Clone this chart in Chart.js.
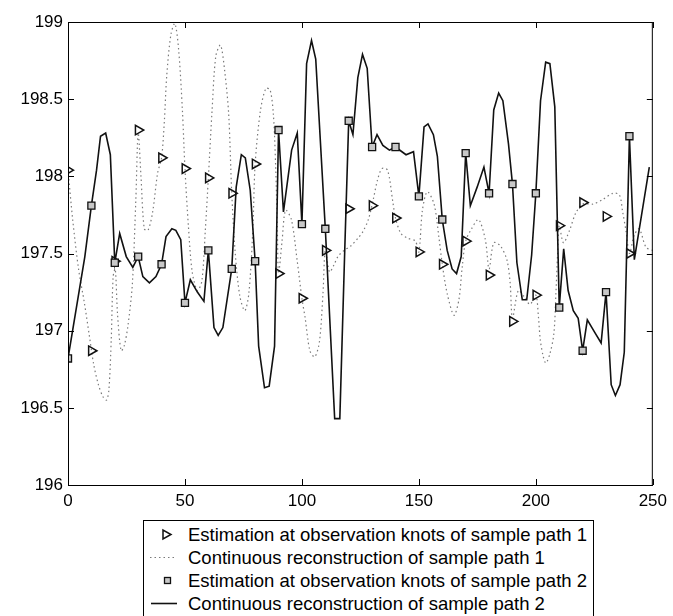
<!DOCTYPE html>
<html>
<head>
<meta charset="utf-8">
<script src="https://cdn.jsdelivr.net/npm/chart.js@4/dist/chart.umd.min.js"></script>
<style>
  body { margin: 0; background: #fff; }
  #wrap { position: relative; width: 673px; height: 616px; }
  #legendBox {
    position: absolute; left: 143px; top: 520px; width: 451px; height: 100px;
    border: 1px solid #000; box-sizing: border-box; background: #fff;
    font-family: "Liberation Sans", Arial, sans-serif; font-size: 18.5px; color: #000;
  }
  .row { position: absolute; left: 0; height: 23px; line-height: 23px; white-space: nowrap; }
  .row svg { position: absolute; left: 4px; top: 0; }
  .row span { position: absolute; left: 44px; }
</style>
</head>
<body>
<div id="wrap">
  <canvas id="myChart" width="673" height="616"></canvas>
  <div id="legendBox"></div>
</div>
<script>
// observation knots
const knotX = [0, 10, 20, 30, 40, 50, 60, 70, 80, 90, 100, 110, 120, 130, 140, 150, 160, 170, 180, 190, 200, 210, 220, 230, 240];
const path1Knots = [198.04, 196.87, 197.45, 198.30, 198.12, 198.05, 197.99, 197.89, 198.08, 197.37, 197.21, 197.52, 197.79,
  197.81, 197.73, 197.51, 197.43, 197.58, 197.36, 197.06, 197.23, 197.68, 197.83, 197.74, 197.50];
const path2Knots = [196.82, 197.81, 197.44, 197.48, 197.43, 197.18, 197.52, 197.40, 197.45, 198.30, 197.69, 197.66, 198.36,
  198.19, 198.19, 197.87, 197.72, 198.15, 197.89, 197.95, 197.89, 197.15, 196.87, 197.25, 198.26];

// continuous reconstruction, sample path 1 (dotted)
const path1CurveX = [0, 2, 4.5, 7, 9, 11, 13, 15, 16.5, 17.5, 18.5, 19.3, 20.2, 21.2, 22.7, 24, 25.6, 27.5, 29, 30,
  31.2, 32.6, 34.2, 36.2, 38.3, 40, 41.2, 42.2, 44, 45.7, 47.3, 48.9, 50, 51.5, 53.1, 55.3, 57.2, 58.7, 60,
  61.6, 63.2, 65.2, 67, 68.7, 70, 71.5, 73.5, 75.6, 77.3, 79, 80, 82.3, 84.6, 86.4, 87.8, 88.8, 89.5, 90,
  91.5, 93, 95.5, 98, 100, 101.4, 103.4, 105.5, 107.5, 109, 110, 111.8, 113.5, 115.4, 118, 121, 124, 126,
  128.4, 130.5, 132.2, 134.2, 136.6, 138.8, 140, 142.3, 145.1, 148.5, 150, 151.5, 153.6, 156.5, 158.6, 160,
  162.1, 165, 167.1, 168.5, 170, 172.5, 175.5, 178.4, 180, 182, 184.8, 187.6, 189, 190, 192.5, 195, 197.5,
  200, 201.1, 201.9, 203.2, 204.3, 206, 207.7, 208.6, 209.3, 210, 211.8, 214.4, 217, 220, 224.4, 228.6,
  232.9, 235.7, 237.1, 238.6, 240, 242.1, 244.2, 247.1, 250];
const path1CurveY = [198.04, 197.72, 197.40, 197.18, 196.98, 196.78, 196.65, 196.57, 196.55, 196.62, 196.95, 197.35, 197.40, 197.10, 196.87, 196.90, 197.03, 197.30, 197.85, 198.28,
  198.00, 197.66, 197.65, 197.77, 198.02, 198.12, 198.36, 198.65, 198.92, 198.99, 198.82, 198.43, 198.05, 197.67, 197.38, 197.26, 197.32, 197.65, 197.99,
  198.43, 198.78, 198.85, 198.68, 198.40, 197.89, 197.50, 197.22, 197.13, 197.24, 197.65, 198.08, 198.43, 198.57, 198.56, 198.40, 198.05, 197.65, 197.37,
  197.58, 197.78, 197.72, 197.45, 197.21, 197.08, 196.87, 196.83, 196.93, 197.24, 197.52, 197.38, 197.42, 197.48, 197.52, 197.55, 197.60, 197.64,
  197.72, 197.85, 197.97, 198.05, 198.04, 197.84, 197.73, 197.63, 197.60, 197.58, 197.51, 197.78, 197.90, 197.82, 197.60, 197.43,
  197.24, 197.10, 197.20, 197.41, 197.58, 197.66, 197.72, 197.59, 197.40, 197.57, 197.55, 197.46, 197.31, 197.08, 197.26, 197.22, 197.17,
  197.23, 197.09, 196.94, 196.83, 196.79, 196.85, 196.98, 197.25, 197.50, 197.68, 197.57, 197.65, 197.76, 197.82, 197.82, 197.85,
  197.89, 197.88, 197.77, 197.64, 197.50, 197.62, 197.66, 197.54, 197.52];

// continuous reconstruction, sample path 2 (solid)
const path2CurveX = [0, 7.2, 10, 12.2, 13.9, 16.1, 18.1, 20, 22.1, 24.9, 27.7, 30, 32, 34.8, 37.6, 40, 41.9, 44.4, 46.1, 48.2,
  50, 52.3, 55.3, 58.1, 60, 62.4, 64.2, 66.2, 70, 71.9, 74.1, 75.8, 77.9, 80, 81.5, 84, 86, 88.3, 90, 92.1, 95.6, 98,
  100, 102, 104.1, 105.9, 110, 114, 116.2, 118.3, 120, 121.8, 123.9, 125.9, 127.9, 130, 132.1, 134.6, 137.4, 140,
  144.5, 147.7, 150, 152.2, 153.9, 156.2, 157.9, 160, 162.1, 164.2, 166.1, 168.1, 170, 172, 174.9, 177.8, 180,
  182, 184.1, 185.9, 188.3, 190, 191.9, 194.2, 196.1, 198.2, 200, 202, 204.2, 206, 208.1, 210, 211.9, 213.8, 216,
  218.1, 220, 222, 225.1, 227.9, 230, 232.2, 234, 236, 237.8, 240, 242.1, 248.5];
const path2CurveY = [196.82, 197.48, 197.81, 198.04, 198.26, 198.28, 198.14, 197.44, 197.63, 197.48, 197.41, 197.48, 197.35, 197.31, 197.35, 197.43, 197.61, 197.66, 197.65, 197.59,
  197.18, 197.33, 197.25, 197.19, 197.52, 197.02, 196.97, 197.02, 197.40, 197.93, 198.14, 198.12, 197.91, 197.45, 196.90, 196.63, 196.64, 196.90, 198.30, 197.77, 198.17, 198.28,
  197.69, 198.73, 198.88, 198.76, 197.66, 196.43, 196.43, 197.52, 198.36, 198.27, 198.64, 198.79, 198.70, 198.19, 198.27, 198.20, 198.17, 198.19,
  198.14, 198.16, 197.87, 198.32, 198.34, 198.27, 198.13, 197.72, 197.52, 197.40, 197.37, 197.48, 198.15, 197.81, 197.93, 198.06, 197.89,
  198.43, 198.54, 198.49, 198.21, 197.95, 197.44, 197.20, 197.20, 197.49, 197.89, 198.49, 198.74, 198.73, 198.45, 197.15, 197.53, 197.26, 197.13,
  197.08, 196.87, 197.07, 196.99, 196.92, 197.25, 196.65, 196.58, 196.65, 196.86, 198.26, 197.46, 198.06];

const legendLabels = [
  'Estimation at observation knots of sample path 1',
  'Continuous reconstruction of sample path 1',
  'Estimation at observation knots of sample path 2',
  'Continuous reconstruction of sample path 2'
];

const toPoints = (xs, ys) => xs.map((x, i) => ({ x: x, y: ys[i] }));

const font = { family: '"Liberation Sans", Arial, sans-serif', size: 17 };

// box around the axes with inward ticks on every side
const frameTicks = {
  id: 'frameTicks',
  afterDatasetsDraw(chart) {
    const { ctx, chartArea: a, scales } = chart;
    const len = 6;
    ctx.save();
    ctx.strokeStyle = '#000';
    ctx.lineWidth = 1;
    ctx.strokeRect(a.left + 0.5, a.top + 0.5, a.right - a.left - 1, a.bottom - a.top);
    ctx.beginPath();
    scales.x.ticks.forEach(t => {
      const px = Math.round(scales.x.getPixelForValue(t.value)) + 0.5;
      ctx.moveTo(px, a.bottom); ctx.lineTo(px, a.bottom - len);
      ctx.moveTo(px, a.top); ctx.lineTo(px, a.top + len);
    });
    scales.y.ticks.forEach(t => {
      const py = Math.round(scales.y.getPixelForValue(t.value)) + 0.5;
      ctx.moveTo(a.left, py); ctx.lineTo(a.left + len, py);
      ctx.moveTo(a.right, py); ctx.lineTo(a.right - len, py);
    });
    ctx.stroke();
    ctx.restore();
  }
};

const myChart = new Chart(document.getElementById('myChart'), {
  data: {
    datasets: [
      {
        type: 'line',
        label: legendLabels[1],
        data: toPoints(path1CurveX, path1CurveY),
        borderColor: '#7a7a7a',
        borderWidth: 1.2,
        borderDash: [1.5, 3],
        pointRadius: 0,
        tension: 0.3,
        fill: false,
        order: 4
      },
      {
        type: 'line',
        label: legendLabels[3],
        data: toPoints(path2CurveX, path2CurveY),
        borderColor: '#111',
        borderWidth: 1.6,
        pointRadius: 0,
        tension: 0,
        fill: false,
        order: 3
      },
      {
        type: 'scatter',
        label: legendLabels[0],
        data: toPoints(knotX, path1Knots),
        pointStyle: 'triangle',
        rotation: 90,
        pointRadius: 5.5,
        borderColor: '#111',
        borderWidth: 1.5,
        backgroundColor: 'rgba(255,255,255,0)',
        order: 2
      },
      {
        type: 'scatter',
        label: legendLabels[2],
        data: toPoints(knotX, path2Knots),
        pointStyle: 'rect',
        pointRadius: 5,
        borderColor: '#111',
        borderWidth: 1.3,
        backgroundColor: '#c8c8c8',
        order: 1
      }
    ]
  },
  options: {
    responsive: false,
    animation: false,
    layout: { padding: { left: 0, top: 22, right: 16, bottom: 0 } },
    plugins: { legend: { display: false }, tooltip: { enabled: false } },
    scales: {
      x: {
        type: 'linear',
        min: 0,
        max: 250,
        afterFit(scale) { scale.height = 131; },
        grid: { display: false, drawTicks: false },
        border: { display: false },
        ticks: { stepSize: 50, maxRotation: 0, autoSkip: false, padding: 6, color: '#000', font: font }
      },
      y: {
        type: 'linear',
        min: 196,
        max: 199,
        afterFit(scale) { scale.width = 68; },
        grid: { display: false, drawTicks: false },
        border: { display: false },
        ticks: {
          stepSize: 0.5, autoSkip: false, padding: 5, color: '#000', font: font,
          callback: (v) => String(Math.round(v * 10) / 10)
        }
      }
    }
  },
  plugins: [frameTicks]
});

// legend box under the axes
const markerSvg = [
  '<svg width="36" height="23"><polygon points="15,7 15,16 23,11.5" fill="none" stroke="#111" stroke-width="1.5"/></svg>',
  '<svg width="36" height="23"><line x1="2" y1="11.5" x2="28" y2="11.5" stroke="#7a7a7a" stroke-width="1.2" stroke-dasharray="1.5 3"/></svg>',
  '<svg width="36" height="23"><rect x="16.5" y="8.5" width="6" height="6" fill="#c8c8c8" stroke="#111" stroke-width="1.3"/></svg>',
  '<svg width="36" height="23"><line x1="3" y1="11.5" x2="29" y2="11.5" stroke="#111" stroke-width="1.6"/></svg>'
];
const legendBox = document.getElementById('legendBox');
legendLabels.forEach((txt, i) => {
  const row = document.createElement('div');
  row.className = 'row';
  row.style.top = (2 + i * 23) + 'px';
  row.innerHTML = markerSvg[i] + '<span>' + txt + '</span>';
  legendBox.appendChild(row);
});
</script>
</body>
</html>
